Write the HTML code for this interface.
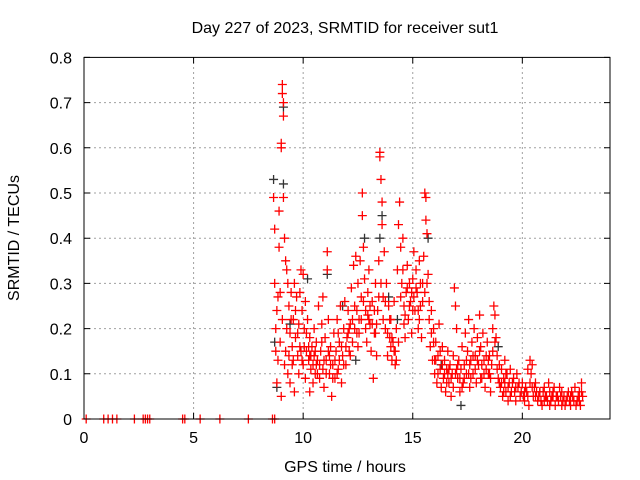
<!DOCTYPE html>
<html><head><meta charset="utf-8"><style>
html,body{margin:0;padding:0;background:#fff;}
svg{display:block;font-family:"Liberation Sans",sans-serif;}
</style></head><body>
<svg id="chart" width="640" height="480" viewBox="0 0 640 480">
<text x="345" y="33" font-size="16" text-anchor="middle">Day 227 of 2023, SRMTID for receiver sut1</text>
<text transform="translate(19,238) rotate(-90)" font-size="16" text-anchor="middle">SRMTID / TECUs</text>
<text x="345" y="472" font-size="16" text-anchor="middle">GPS time / hours</text>
<g id="grid"></g>
<g id="axes"></g>
<g id="black-series"></g>
<g id="red-series"></g>
<rect x="84" y="57.4" width="526" height="361.6" fill="none" stroke="#000" stroke-width="1"/>
</svg>
<script>
const xTicks = [0,5,10,15,20];
const yTicks = [0,0.1,0.2,0.3,0.4,0.5,0.6,0.7,0.8];
const yTickLabels = ["0","0.1","0.2","0.3","0.4","0.5","0.6","0.7","0.8"];
const zeroHours = [0.1,0.9,1.1,1.3,1.5,2.3,2.7,2.8,2.9,3.0,4.5,4.6,5.3,6.2,7.5,8.6,8.7];
const blackPts = [[8.65,0.53],[9.1,0.69],[9.1,0.52],[12.8,0.40],[13.6,0.45],[13.5,0.40],[15.7,0.40],[10.2,0.31],[11.1,0.32],[17.2,0.03],[8.8,0.07],[8.7,0.17],[9.4,0.21],[14.3,0.22],[11.8,0.25],[12.4,0.13],[16.3,0.12],[18.9,0.16],[20.8,0.06],[13.9,0.27]];
const redPts = [[8.65,0.49],[8.7,0.42],[8.7,0.30],[8.75,0.15],[8.8,0.08],[8.8,0.24],[8.85,0.13],[8.9,0.38],[8.9,0.46],[8.95,0.28],[9.0,0.60],[9.0,0.61],[9.05,0.74],[9.05,0.72],[9.1,0.70],[9.1,0.67],[9.1,0.49],[9.0,0.05],[9.15,0.40],[9.2,0.35],[9.2,0.15],[9.25,0.33],[9.3,0.30],[9.3,0.10],[9.35,0.25],[9.4,0.19],[9.4,0.08],[9.45,0.28],[9.5,0.16],[9.5,0.12],[9.55,0.22],[9.6,0.30],[9.6,0.06],[9.65,0.18],[9.7,0.27],[9.75,0.14],[9.8,0.21],[9.8,0.10],[9.85,0.28],[9.9,0.33],[9.9,0.15],[9.95,0.24],[10.0,0.32],[10.0,0.12],[10.05,0.20],[10.1,0.26],[10.1,0.09],[10.15,0.15],[10.2,0.22],[10.25,0.13],[10.3,0.18],[10.3,0.06],[10.35,0.11],[10.4,0.16],[10.45,0.08],[10.5,0.14],[10.5,0.20],[10.55,0.10],[10.6,0.17],[10.65,0.13],[10.7,0.25],[10.75,0.09],[10.8,0.15],[10.85,0.21],[10.9,0.11],[10.9,0.27],[10.95,0.07],[11.0,0.18],[11.05,0.13],[11.1,0.37],[11.1,0.33],[11.15,0.22],[11.2,0.10],[11.25,0.16],[11.3,0.05],[11.35,0.12],[11.4,0.19],[11.45,0.09],[11.5,0.15],[11.55,0.22],[11.6,0.11],[11.65,0.17],[11.7,0.25],[11.75,0.08],[11.8,0.14],[11.85,0.20],[11.9,0.26],[11.95,0.12],[12.0,0.18],[12.05,0.24],[12.1,0.15],[12.15,0.21],[12.2,0.29],[12.25,0.17],[12.3,0.34],[12.35,0.25],[12.4,0.36],[12.45,0.19],[12.5,0.30],[12.55,0.22],[12.6,0.35],[12.65,0.27],[12.7,0.50],[12.7,0.45],[12.75,0.38],[12.8,0.31],[12.85,0.24],[12.9,0.17],[12.95,0.28],[13.0,0.33],[13.05,0.21],[13.1,0.15],[13.15,0.26],[13.2,0.09],[13.25,0.19],[13.3,0.30],[13.35,0.14],[13.4,0.24],[13.45,0.35],[13.5,0.59],[13.5,0.58],[13.55,0.53],[13.6,0.48],[13.6,0.43],[13.65,0.27],[13.7,0.37],[13.75,0.20],[13.8,0.30],[13.85,0.14],[13.9,0.25],[13.95,0.18],[14.0,0.22],[14.05,0.13],[14.1,0.17],[14.15,0.26],[14.2,0.12],[14.25,0.20],[14.3,0.33],[14.35,0.43],[14.4,0.48],[14.45,0.38],[14.5,0.30],[14.55,0.40],[14.6,0.25],[14.65,0.18],[14.7,0.28],[14.75,0.34],[14.8,0.22],[14.85,0.30],[14.9,0.26],[14.95,0.19],[15.0,0.31],[15.05,0.37],[15.1,0.24],[15.15,0.33],[15.2,0.28],[15.25,0.20],[15.3,0.35],[15.35,0.25],[15.4,0.18],[15.45,0.30],[15.5,0.36],[15.55,0.50],[15.6,0.49],[15.6,0.44],[15.65,0.41],[15.7,0.32],[15.75,0.22],[15.8,0.16],[15.85,0.24],[15.9,0.13],[15.95,0.20],[16.0,0.10],[16.05,0.17],[16.1,0.08],[16.15,0.14],[16.2,0.21],[16.25,0.11],[16.3,0.07],[16.35,0.16],[16.4,0.09],[16.45,0.13],[16.5,0.06],[16.55,0.11],[16.6,0.15],[16.65,0.08],[16.7,0.12],[16.75,0.05],[16.8,0.10],[16.85,0.14],[16.9,0.29],[16.95,0.25],[17.0,0.20],[17.05,0.09],[17.1,0.13],[17.15,0.06],[17.2,0.11],[17.25,0.16],[17.3,0.08],[17.35,0.12],[17.4,0.19],[17.45,0.10],[17.5,0.15],[17.55,0.22],[17.6,0.07],[17.65,0.13],[17.7,0.17],[17.75,0.10],[17.8,0.20],[17.85,0.14],[17.9,0.08],[17.95,0.18],[18.0,0.12],[18.05,0.23],[18.1,0.16],[18.15,0.09],[18.2,0.19],[18.25,0.13],[18.3,0.07],[18.35,0.11],[18.4,0.17],[18.45,0.10],[18.5,0.14],[18.55,0.06],[18.6,0.12],[18.65,0.20],[18.7,0.25],[18.75,0.23],[18.8,0.18],[18.85,0.14],[18.9,0.09],[18.95,0.12],[19.0,0.07],[19.05,0.11],[19.1,0.05],[19.15,0.09],[19.2,0.13],[19.25,0.06],[19.3,0.10],[19.35,0.04],[19.4,0.08],[19.45,0.11],[19.5,0.06],[19.6,0.09],[19.7,0.04],[19.8,0.07],[19.9,0.05],[20.0,0.08],[20.1,0.04],[20.2,0.06],[20.3,0.03],[20.35,0.13],[20.4,0.10],[20.45,0.07],[20.5,0.05],[20.6,0.08],[20.7,0.04],[20.8,0.06],[20.9,0.03],[21.0,0.07],[21.1,0.05],[21.2,0.08],[21.3,0.04],[21.4,0.06],[21.5,0.03],[21.6,0.05],[21.7,0.07],[21.8,0.03],[21.9,0.05],[22.0,0.04],[22.1,0.06],[22.2,0.03],[22.3,0.05],[22.4,0.07],[22.5,0.04],[22.6,0.06],[22.7,0.08],[22.75,0.05],
[10.3,0.14],[10.6,0.12],[11.2,0.14],[11.6,0.19],[12.1,0.20],[12.5,0.16],[13.0,0.22],[13.3,0.19],[14.0,0.16],[14.2,0.15],[14.6,0.21],[15.0,0.24],[15.3,0.22],[16.0,0.13],[16.6,0.10],[17.0,0.11],[17.6,0.12],[18.1,0.09],[18.5,0.10],[19.2,0.08],[19.7,0.07],[20.1,0.06],[20.6,0.05],[21.0,0.04],[21.4,0.05],[21.8,0.06],[22.2,0.05],[22.6,0.04],[20.25,0.11],[21.25,0.06],[22.45,0.03],
[8.75,0.20],[8.85,0.27],[8.95,0.17],[9.05,0.22],[9.15,0.12],[9.25,0.20],[9.35,0.14],[9.45,0.22],[9.55,0.13],[9.65,0.24],[9.75,0.19],[9.85,0.16],[9.95,0.13],[10.05,0.16],[10.15,0.19],[10.25,0.16],[10.35,0.14],[10.45,0.12],[10.55,0.15],[10.65,0.10],[10.75,0.12],[10.85,0.17],[10.95,0.13],[11.05,0.10],[11.15,0.15],[11.25,0.12],[11.35,0.09],[11.45,0.13],[11.55,0.10],[11.65,0.13],[11.75,0.16],[11.85,0.12],[11.95,0.16],[12.05,0.19],[12.15,0.14],[12.25,0.22],[12.35,0.20],[12.45,0.24],[12.55,0.19],[12.65,0.22],[12.75,0.26],[12.85,0.20],[12.95,0.23],[13.05,0.25],[13.15,0.21],[13.25,0.24],[13.35,0.21],[13.45,0.27],[13.55,0.30],[13.65,0.22],[13.75,0.26],[13.85,0.19],[13.95,0.22],[14.05,0.18],[14.15,0.15],[14.25,0.13],[14.35,0.17],[14.45,0.27],[14.55,0.33],[14.65,0.23],[14.75,0.29],[14.85,0.25],[14.95,0.28],[15.05,0.27],[15.15,0.29],[15.25,0.24],[15.35,0.30],[15.45,0.26],[15.55,0.28],[15.65,0.30],[15.75,0.26],[15.85,0.19],[15.95,0.17],[16.05,0.13],[16.15,0.10],[16.25,0.15],[16.35,0.12],[16.45,0.10],[16.55,0.08],[16.65,0.11],[16.75,0.09],[16.85,0.07],[16.95,0.10],[17.05,0.12],[17.15,0.09],[17.25,0.07],[17.35,0.09],[17.45,0.13],[17.55,0.10],[17.65,0.09],[17.75,0.14],[17.85,0.11],[17.95,0.13],[18.05,0.15],[18.15,0.12],[18.25,0.10],[18.35,0.14],[18.45,0.13],[18.55,0.09],[18.65,0.15],[18.75,0.17],[18.85,0.11],[18.95,0.08],[19.05,0.08],[19.15,0.06],[19.25,0.10],[19.35,0.07],[19.45,0.05],[19.55,0.08],[19.65,0.06],[19.75,0.10],[19.85,0.08],[19.95,0.06],[20.05,0.05],[20.15,0.07],[20.25,0.05],[20.35,0.08],[20.45,0.12],[20.55,0.07],[20.65,0.06],[20.75,0.05],[20.85,0.04],[20.95,0.06],[21.05,0.05],[21.15,0.04],[21.25,0.03],[21.35,0.05],[21.45,0.07],[21.55,0.05],[21.65,0.04],[21.75,0.05],[21.85,0.04],[21.95,0.03],[22.05,0.05],[22.15,0.04],[22.25,0.06],[22.35,0.04],[22.55,0.05],[22.65,0.03],[22.7,0.06]];

const NS = "http://www.w3.org/2000/svg";
const X0 = 84, X1 = 610, Y0 = 419, Y1 = 57.4, XMAX = 24, YMAX = 0.8;
function xs(v){ return X0 + (X1 - X0) * v / XMAX; }
function ys(v){ return Y0 - (Y0 - Y1) * v / YMAX; }
function mk(tag, attrs){ const e = document.createElementNS(NS, tag); for (const k in attrs) e.setAttribute(k, attrs[k]); return e; }
const grid = document.getElementById('grid'), axes = document.getElementById('axes');
xTicks.forEach(t => {
  const x = xs(t);
  if (t > 0) {
    const g = mk('line', {x1:x, y1:Y0, x2:x, y2:Y1, stroke:'#a0a0a0', 'stroke-dasharray':'2,3', 'stroke-width':1});
    
    
    grid.appendChild(g);
  }
  const tk = mk('path', {d:`M${x},${Y0}v-6M${x},${Y1}v6`, stroke:'#000', 'stroke-width':1});
  
  
  axes.appendChild(tk);
  const lb = mk('text', {x:x, y:443, 'font-size':16, 'text-anchor':'middle'});
  lb.textContent = String(t);
  
  
  axes.appendChild(lb);
});
yTicks.forEach((t, i) => {
  const y = ys(t);
  if (t > 0 && t < YMAX) {
    const g = mk('line', {x1:X0, y1:y, x2:X1, y2:y, stroke:'#a0a0a0', 'stroke-dasharray':'2,3', 'stroke-width':1});
    
    
    grid.appendChild(g);
  }
  const tk = mk('path', {d:`M${X0},${y}h6M${X1},${y}h-6`, stroke:'#000', 'stroke-width':1});
  
  
  axes.appendChild(tk);
  const lb = mk('text', {x:72, y:y + 6, 'font-size':16, 'text-anchor':'end'});
  lb.textContent = yTickLabels[i];
  
  
  axes.appendChild(lb);
});
function plus(group, h, v, color){
  const x = xs(h), y = ys(v);
  const p = mk('path', {d:`M${x-4.5},${y}h9M${x},${y-4.5}v9`, stroke:color, 'stroke-width':1.3});
  
  
  group.appendChild(p);
}
const bg = document.getElementById('black-series'), rg = document.getElementById('red-series');
blackPts.forEach(p => plus(bg, p[0], p[1], '#333'));
zeroHours.forEach(h => plus(rg, h, 0, '#f00'));
redPts.forEach(p => plus(rg, p[0], p[1], '#f00'));
</script>
</body></html>
